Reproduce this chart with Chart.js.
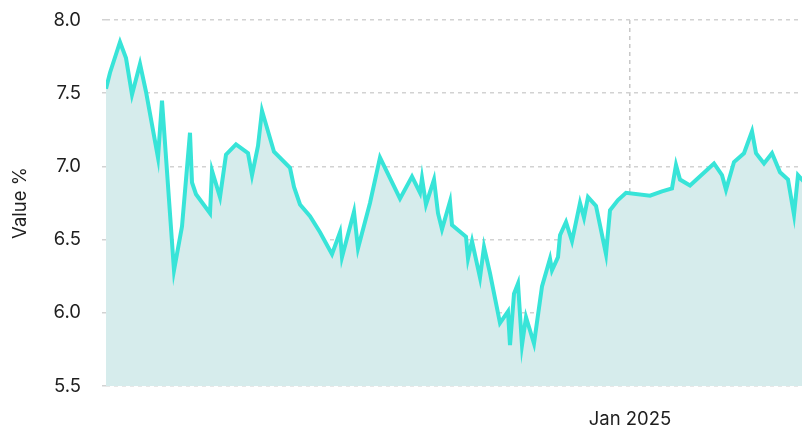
<!DOCTYPE html>
<html>
<head>
<meta charset="utf-8">
<script src="https://cdn.jsdelivr.net/npm/chart.js@4"></script>
<style>
  html, body { margin: 0; padding: 0; background: #fff; overflow: hidden; }
  #wrap { width: 808px; height: 430px; position: relative; }
</style>
</head>
<body>
<div id="wrap"><canvas id="chart"></canvas></div>
<script>
// days relative to 1 Jan 2025
const days = [-262, -260, -255, -252, -249, -245, -242, -236, -234, -228,
  -224, -220, -219, -217, -210, -209, -205, -202, -197, -191,
  -189, -186, -184, -178, -170, -168, -165, -160, -155, -149,
  -145, -144, -138, -136, -130, -125, -115, -109, -105, -104,
  -102, -98, -96, -94, -90, -89, -82, -81, -79, -75,
  -73, -70, -65, -61, -60, -58, -56, -54, -52, -48,
  -44, -40, -39, -36, -35, -32, -29, -25, -23, -21,
  -17, -12, -10, -6, -2, 10, 16, 21, 23, 25,
  30, 42, 46, 48, 52, 57, 61, 63, 67, 71,
  75, 79, 82, 84, 86, 88];

const values = [7.53, 7.64, 7.85, 7.74, 7.49, 7.70, 7.51, 7.06, 7.45, 6.29,
  6.59, 7.23, 6.89, 6.81, 6.68, 6.97, 6.79, 7.08, 7.15, 7.09,
  6.94, 7.14, 7.38, 7.10, 6.99, 6.86, 6.74, 6.66, 6.55, 6.40,
  6.55, 6.38, 6.69, 6.44, 6.75, 7.06, 6.78, 6.93, 6.82, 6.92,
  6.74, 6.91, 6.68, 6.57, 6.76, 6.60, 6.52, 6.37, 6.49, 6.24,
  6.45, 6.27, 5.93, 6.01, 5.78, 6.13, 6.20, 5.78, 5.97, 5.79,
  6.18, 6.37, 6.29, 6.38, 6.53, 6.62, 6.49, 6.75, 6.65, 6.79,
  6.73, 6.40, 6.70, 6.77, 6.82, 6.80, 6.83, 6.85, 7.01, 6.91,
  6.87, 7.02, 6.94, 6.84, 7.03, 7.09, 7.24, 7.09, 7.02, 7.09,
  6.96, 6.91, 6.67, 6.94, 6.91, 6.88];

const xTickDays = [0];
const xTickLabels = ['Jan 2025'];
const yTicks = [5.5, 6.0, 6.5, 7.0, 7.5, 8.0];

const points = days.map((d, i) => ({ x: d, y: values[i] }));
const gridColor = '#d2d2d2';
const textColor = '#1e1e1e';
const font = { family: 'Inter', size: 18.5 };

new Chart(document.getElementById('chart'), {
  type: 'line',
  data: {
    datasets: [{
      data: points,
      borderColor: '#38e4d8',
      borderWidth: 4,
      backgroundColor: '#d6ecec',
      fill: 'start',
      tension: 0,
      pointRadius: 0
    }]
  },
  options: {
    responsive: true,
    maintainAspectRatio: false,
    animation: false,
    layout: { padding: { top: 20, right: 2, bottom: 0, left: 0 } },
    plugins: { legend: { display: false }, tooltip: { enabled: false } },
    scales: {
      x: {
        type: 'linear',
        min: days[0],
        max: days[days.length - 1],
        afterBuildTicks: s => { s.ticks = xTickDays.map(v => ({ value: v })); },
        afterFit: s => { s.height = 44; s.paddingLeft = 0; s.paddingRight = 0; },
        grid: { color: '#c8c8c8', lineWidth: 1.5, drawTicks: false },
        border: { display: false, dash: [4, 4] },
        ticks: {
          padding: 22,
          maxRotation: 0,
          autoSkip: false,
          color: textColor,
          font: font,
          callback: v => {
            const i = xTickDays.indexOf(v);
            return i >= 0 ? xTickLabels[i] : '';
          }
        }
      },
      y: {
        min: 5.5,
        max: 8.0,
        afterBuildTicks: s => { s.ticks = yTicks.map(v => ({ value: v })); },
        afterFit: s => { s.width = 106; s.paddingTop = 0; s.paddingBottom = 0; },
        grid: { color: gridColor, lineWidth: 1.5, drawTicks: true, tickLength: 4, tickColor: gridColor },
        border: { display: false, dash: [4, 4] },
        ticks: {
          padding: 21,
          color: textColor,
          font: font,
          callback: v => v.toFixed(1)
        },
        title: {
          display: true,
          text: 'Value %',
          color: textColor,
          font: font,
          padding: { top: 9, bottom: 0 }
        }
      }
    }
  }
});
</script>
</body>
</html>
